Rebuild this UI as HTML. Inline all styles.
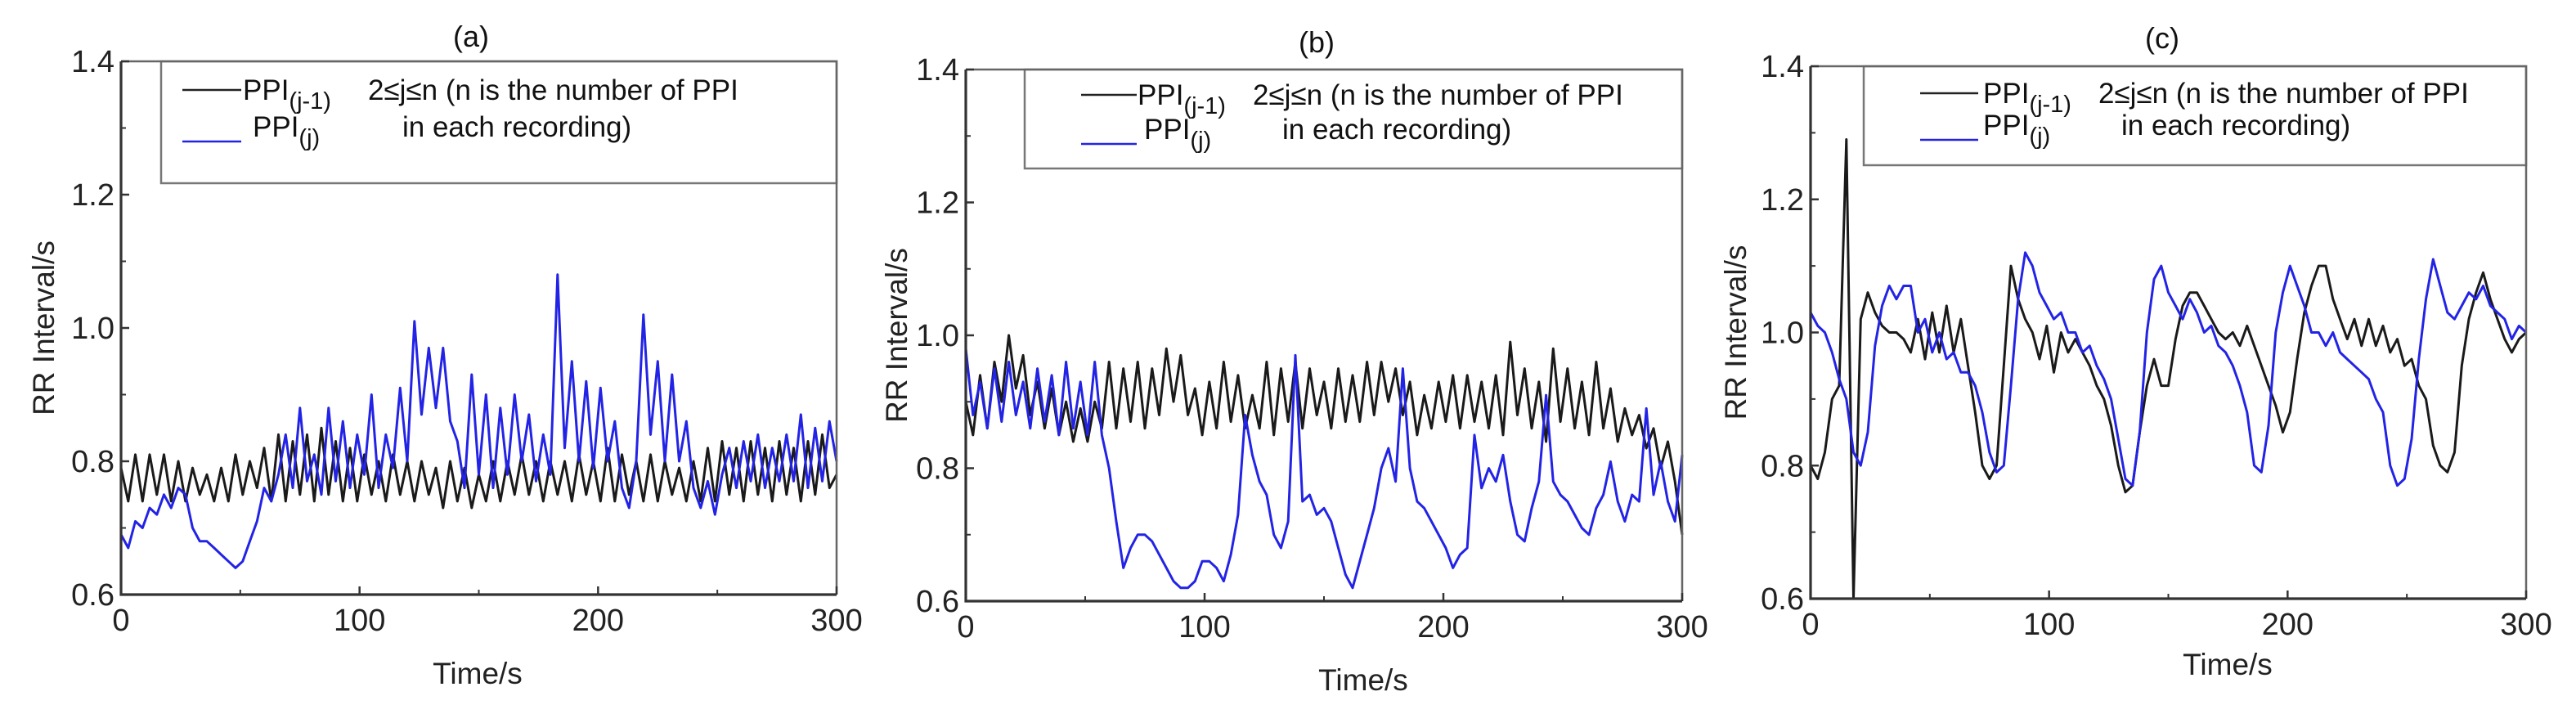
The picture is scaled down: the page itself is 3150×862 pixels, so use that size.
<!DOCTYPE html>
<html><head><meta charset="utf-8">
<style>
html,body{margin:0;padding:0;background:#fff;}
svg{display:block;font-family:"Liberation Sans",Arial,sans-serif;}
</style></head>
<body>
<svg id="fig" width="3150" height="862" viewBox="0 0 3150 862" xmlns="http://www.w3.org/2000/svg"></svg>
<script>
// ---- data (sampled every 3 s, t = 0..300) ----
const xTicks = [0, 100, 200, 300];
const yTicks = [0.6, 0.8, 1.0, 1.2, 1.4];
const yTickLabels = ["0.6", "0.8", "1.0", "1.2", "1.4"];
const panelTitles = ["(a)", "(b)", "(c)"];

const aPrev = [0.79,0.74,0.81,0.74,0.81,0.75,0.81,0.74,0.80,0.74,
0.79,0.75,0.78,0.74,0.79,0.74,0.81,0.75,0.80,0.76,
0.82,0.74,0.84,0.74,0.83,0.75,0.84,0.74,0.85,0.75,
0.83,0.74,0.82,0.74,0.81,0.75,0.80,0.74,0.81,0.75,
0.80,0.74,0.80,0.75,0.79,0.73,0.80,0.74,0.79,0.73,
0.78,0.74,0.80,0.74,0.80,0.75,0.81,0.75,0.80,0.74,
0.80,0.75,0.80,0.74,0.81,0.75,0.80,0.74,0.82,0.74,
0.81,0.75,0.80,0.74,0.81,0.74,0.80,0.75,0.79,0.74,
0.80,0.74,0.82,0.74,0.83,0.75,0.82,0.74,0.83,0.75,
0.82,0.74,0.83,0.75,0.82,0.74,0.83,0.75,0.84,0.76,
0.78];
const aCur = [0.69,0.67,0.71,0.70,0.73,0.72,0.75,0.73,0.76,0.75,
0.70,0.68,0.68,0.67,0.66,0.65,0.64,0.65,0.68,0.71,
0.76,0.74,0.78,0.84,0.76,0.88,0.77,0.81,0.75,0.88,
0.77,0.86,0.76,0.84,0.78,0.90,0.76,0.84,0.79,0.91,
0.80,1.01,0.87,0.97,0.88,0.97,0.86,0.83,0.76,0.93,
0.78,0.90,0.76,0.88,0.78,0.90,0.80,0.87,0.77,0.84,
0.78,1.08,0.82,0.95,0.80,0.92,0.79,0.91,0.80,0.86,
0.76,0.73,0.80,1.02,0.84,0.95,0.80,0.93,0.80,0.86,
0.76,0.73,0.77,0.72,0.78,0.82,0.76,0.83,0.77,0.84,
0.76,0.82,0.77,0.84,0.77,0.87,0.76,0.85,0.77,0.86,
0.80];
const bPrev = [0.90,0.85,0.94,0.86,0.96,0.90,1.00,0.92,0.97,0.88,
0.93,0.86,0.92,0.85,0.90,0.84,0.89,0.84,0.90,0.86,
0.96,0.86,0.95,0.87,0.96,0.86,0.95,0.88,0.98,0.90,
0.97,0.88,0.92,0.85,0.93,0.86,0.96,0.87,0.94,0.86,
0.91,0.86,0.96,0.85,0.95,0.87,0.96,0.86,0.95,0.88,
0.93,0.86,0.95,0.87,0.94,0.87,0.96,0.88,0.96,0.90,
0.95,0.88,0.93,0.85,0.91,0.86,0.93,0.87,0.94,0.86,
0.94,0.87,0.93,0.86,0.94,0.85,0.99,0.88,0.95,0.86,
0.93,0.84,0.98,0.87,0.95,0.86,0.93,0.85,0.96,0.86,
0.92,0.84,0.89,0.85,0.88,0.83,0.86,0.80,0.84,0.78,
0.70];
const bCur = [0.98,0.88,0.93,0.86,0.95,0.87,0.96,0.88,0.93,0.86,
0.95,0.87,0.94,0.85,0.96,0.86,0.93,0.85,0.96,0.85,
0.80,0.72,0.65,0.68,0.70,0.70,0.69,0.67,0.65,0.63,
0.62,0.62,0.63,0.66,0.66,0.65,0.63,0.67,0.73,0.88,
0.82,0.78,0.76,0.70,0.68,0.72,0.97,0.75,0.76,0.73,
0.74,0.72,0.68,0.64,0.62,0.66,0.70,0.74,0.80,0.83,
0.78,0.95,0.80,0.75,0.74,0.72,0.70,0.68,0.65,0.67,
0.68,0.85,0.77,0.80,0.78,0.82,0.75,0.70,0.69,0.74,
0.78,0.91,0.78,0.76,0.75,0.73,0.71,0.70,0.74,0.76,
0.81,0.75,0.72,0.76,0.75,0.89,0.76,0.81,0.75,0.72,
0.82];
const cPrev = [0.80,0.78,0.82,0.90,0.92,1.29,0.60,1.02,1.06,1.03,
1.01,1.00,1.00,0.99,0.97,1.02,0.96,1.03,0.97,1.04,
0.97,1.02,0.95,0.88,0.80,0.78,0.80,0.95,1.10,1.05,
1.02,1.00,0.96,1.01,0.94,1.00,0.97,0.99,0.97,0.95,
0.92,0.90,0.86,0.80,0.76,0.77,0.85,0.92,0.96,0.92,
0.92,0.99,1.04,1.06,1.06,1.04,1.02,1.00,0.99,1.00,
0.98,1.01,0.98,0.95,0.92,0.89,0.85,0.88,0.96,1.03,
1.07,1.10,1.10,1.05,1.02,0.99,1.02,0.98,1.02,0.98,
1.01,0.97,0.99,0.95,0.96,0.92,0.90,0.83,0.80,0.79,
0.82,0.95,1.02,1.06,1.09,1.05,1.02,0.99,0.97,0.99,
1.00];
const cCur = [1.03,1.01,1.00,0.97,0.93,0.90,0.82,0.80,0.85,0.98,
1.04,1.07,1.05,1.07,1.07,1.00,1.02,0.97,1.00,0.96,
0.97,0.94,0.94,0.92,0.88,0.82,0.79,0.80,0.92,1.05,
1.12,1.10,1.06,1.04,1.02,1.03,1.00,1.00,0.97,0.98,
0.95,0.93,0.90,0.84,0.78,0.77,0.85,1.00,1.08,1.10,
1.06,1.04,1.02,1.05,1.03,1.00,1.01,0.98,0.97,0.95,
0.92,0.88,0.80,0.79,0.86,1.00,1.06,1.10,1.07,1.04,
1.00,1.00,0.98,1.00,0.97,0.96,0.95,0.94,0.93,0.90,
0.88,0.80,0.77,0.78,0.84,0.96,1.05,1.11,1.07,1.03,
1.02,1.04,1.06,1.05,1.07,1.04,1.03,1.02,0.99,1.01,
1.00];

// ---- layout ----
const panels = [
 {id:"a", L:148, R:1023, T:75, B:727, title:[576,45], ylab:54, xlab:[584,824],
  leg:{x:197,y:75,b:224, lx1:223,lx2:295, y1:110,y2:173, t1:297, t2:309, n1:450, n2:492}, prev:aPrev, cur:aCur},
 {id:"b", L:1181, R:2057, T:85, B:735, title:[1610,52], ylab:1097, xlab:[1667,832],
  leg:{x:1253,y:85,b:206, lx1:1322,lx2:1390, y1:116,y2:176, t1:1391, t2:1399, n1:1532, n2:1568}, prev:bPrev, cur:bCur},
 {id:"c", L:2214, R:3089, T:81, B:732, title:[2644,47], ylab:2123, xlab:[2724,813],
  leg:{x:2279,y:81,b:202, lx1:2348,lx2:2419, y1:114,y2:171, t1:2425, t2:2425, n1:2566, n2:2594}, prev:cPrev, cur:cCur}
];
const NS="http://www.w3.org/2000/svg";
const svg=document.getElementById('fig');
function mk(tag, attrs, parent){const e=document.createElementNS(NS,tag);for(const k in attrs)e.setAttribute(k,attrs[k]);(parent||svg).appendChild(e);return e;}

panels.forEach((p,pi)=>{
  const g=mk('g',{});
  
  
  const xs=v=>p.L+(v-0)/(300-0)*(p.R-p.L);
  const ys=v=>p.B-(v-0.6)/(1.4-0.6)*(p.B-p.T);
  const tt=mk('text',{x:p.title[0],y:p.title[1]+12,'font-size':36,'text-anchor':'middle',fill:'#111'},g);
  tt.textContent=panelTitles[pi];
  
  
  function line(arr,color,name){
    const step=300/(arr.length-1);
    const d=arr.map((v,i)=>(i?'L':'M')+xs(i*step).toFixed(1)+','+ys(v).toFixed(1)).join('');
    const pth=mk('path',{d:d,fill:'none',stroke:color,'stroke-width':3,'stroke-linejoin':'round'},g);
    
    
  }
  line(p.prev,'#1a1a1a','series-ppi-j-minus-1');
  line(p.cur,'#2323e6','series-ppi-j');
  const lb=mk('rect',{x:p.leg.x,y:p.leg.y,width:p.R-p.leg.x,height:p.leg.b-p.leg.y,fill:'#fff',stroke:'#777','stroke-width':2.5},g);
  
  
  const l1=mk('line',{x1:p.leg.lx1,x2:p.leg.lx2,y1:p.leg.y1,y2:p.leg.y1,stroke:'#222','stroke-width':2.6},g);
  
  
  const l2=mk('line',{x1:p.leg.lx1,x2:p.leg.lx2,y1:p.leg.y2,y2:p.leg.y2,stroke:'#2323e6','stroke-width':2.6},g);
  
  
  const e1=mk('text',{x:p.leg.t1,y:p.leg.y1+12,'font-size':35,fill:'#111'},g);
  e1.innerHTML='PPI<tspan dy="11" font-size="29">(j-1)</tspan>';
  
  
  const e2=mk('text',{x:p.leg.t2,y:p.leg.y2-6,'font-size':35,fill:'#111'},g);
  e2.innerHTML='PPI<tspan dy="11" font-size="29">(j)</tspan>';
  
  
  const n1=mk('text',{x:p.leg.n1,y:p.leg.y1+12,'font-size':35,fill:'#111'},g);
  n1.textContent='2≤j≤n (n is the number of PPI';
  
  
  const n2=mk('text',{x:p.leg.n2,y:p.leg.y2-6,'font-size':35,fill:'#111'},g);
  n2.textContent='in each recording)';
  
  
  const fr=mk('path',{d:`M${p.L},${p.T}H${p.R}V${p.B}`,fill:'none',stroke:'#666','stroke-width':2.5},g);
  
  
  const ax=mk('path',{d:`M${p.L},${p.T}V${p.B}H${p.R}`,fill:'none',stroke:'#333','stroke-width':3.2},g);
  
  
  yTicks.forEach((v,i)=>{
    const y=ys(v);
    mk('line',{x1:p.L,x2:p.L+10,y1:y,y2:y,stroke:'#333','stroke-width':2.5},g);
    const t=mk('text',{x:p.L-8,y:y+13,'font-size':38,'text-anchor':'end',fill:'#222'},g);
    t.textContent=yTickLabels[i];
    
    
    if(i<yTicks.length-1){const ym=ys(v+0.1);mk('line',{x1:p.L,x2:p.L+6,y1:ym,y2:ym,stroke:'#333','stroke-width':2},g);}
  });
  xTicks.forEach((v,i)=>{
    const x=xs(v);
    mk('line',{x1:x,x2:x,y1:p.B,y2:p.B-10,stroke:'#333','stroke-width':2.5},g);
    const t=mk('text',{x:x,y:p.B+44,'font-size':38,'text-anchor':'middle',fill:'#222'},g);
    t.textContent=String(v);
    
    
    if(i<xTicks.length-1){const xm=xs(v+50);mk('line',{x1:xm,x2:xm,y1:p.B,y2:p.B-6,stroke:'#333','stroke-width':2},g);}
  });
  const yl=mk('text',{x:p.ylab,y:(p.T+p.B)/2,'font-size':37,'text-anchor':'middle',fill:'#222',transform:`rotate(-90 ${p.ylab} ${(p.T+p.B)/2})`,dy:12},g);
  yl.textContent='RR Interval/s';
  
  
  const xl=mk('text',{x:p.xlab[0],y:p.xlab[1]+12,'font-size':37,'text-anchor':'middle',fill:'#222'},g);
  xl.textContent='Time/s';
  
  
});
</script>
</body></html>
